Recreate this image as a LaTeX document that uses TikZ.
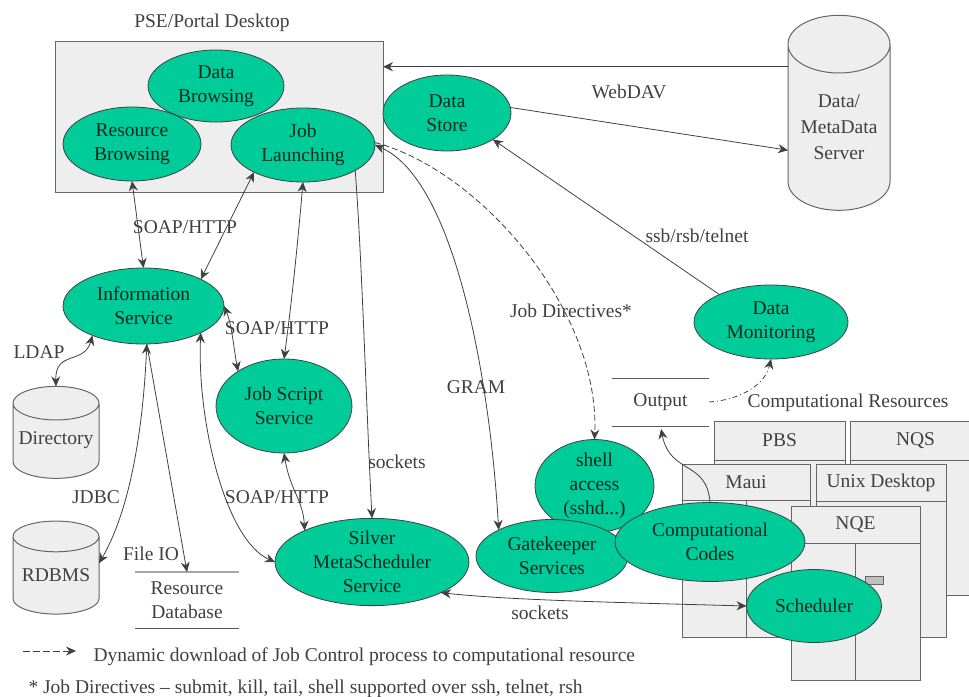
\documentclass[tikz,border=0pt]{standalone}
\usepackage{fontspec}
\setmainfont{Liberation Serif}
\usetikzlibrary{shapes.geometric, arrows.meta, calc}
\definecolor{sea}{HTML}{00CC99}
\definecolor{pale}{HTML}{EEEEEE}
\begin{document}
\begin{tikzpicture}[x=1pt, y=-1pt, every node/.style={font=\fontsize{19.5}{24}\selectfont, text=black!75, align=center}]
% Styles
\tikzstyle{service} = [ellipse, draw=black!75, fill=sea, inner sep=0pt, outer sep=0pt, line width=0.8pt, text=black!80!sea]
\tikzstyle{store} = [cylinder, shape border rotate=90, aspect=0.45, draw=black!60, fill=pale, inner sep=0pt, outer sep=0pt, line width=1pt]
\tikzstyle{panel} = [rectangle, draw=black!60, fill=pale, inner sep=0pt, outer sep=0pt, line width=1pt]
\tikzstyle{flat} = [rectangle, inner sep=0pt, outer sep=0pt]
\tikzstyle{arrow} = [draw=black!75, line width=0.8pt, -{Stealth[length=10pt,width=9pt]}]
\tikzstyle{both} = [draw=black!75, line width=0.8pt, {Stealth[length=10pt,width=9pt]}-{Stealth[length=10pt,width=9pt]}]
\useasboundingbox (0,0) rectangle (969,696);
\clip (0,0) rectangle (969,696);
% Desktop
\node (pse) [panel, minimum width=328, minimum height=151] at (219,116.5) {};
\node (pse_label) at (212,23) {PSE/Portal Desktop};
% Resources
\node (pbs_body) [panel, minimum width=131, minimum height=174] at (779.5,508) {};
\node (pbs) [panel, minimum width=131, minimum height=39] at (779.5,440.5) {PBS};
\node (nqs_body) [panel, minimum width=131, minimum height=174] at (915.5,508) {};
\node (nqs) [panel, minimum width=131, minimum height=39] at (915.5,440.5) {NQS};
\node (maui_body) [panel, minimum width=128, minimum height=173] at (746,550.5) {};
\node (maui) [panel, minimum width=128, minimum height=36] at (746,482) {Maui};
\node (unix_body) [panel, minimum width=130, minimum height=173] at (881,550.5) {};
\node (unix) [panel, minimum width=130, minimum height=37] at (881,482.5) {Unix Desktop};
\draw [draw=black!60, line width=1pt] (maui.south) -- (maui_body.south);
\node (nqe_body) [panel, minimum width=129, minimum height=174] at (855.5,593) {};
\node (nqe) [panel, minimum width=129, minimum height=37] at (855.5,524.5) {NQE};
\draw [draw=black!60, line width=1pt] (nqe.south) -- (nqe_body.south);
\node (nqe_port) [rectangle, draw=black!60, fill=black!25, inner sep=0pt, minimum width=18, minimum height=8] at (874,580) {};
% Nodes
\node (data_browse) [service, minimum width=136, minimum height=72] at (216,86) {Data\\Browsing};
\node (res_browse) [service, minimum width=138, minimum height=74] at (132,144) {Resource\\Browsing};
\node (job_launch) [service, minimum width=144, minimum height=74] at (303,145) {Job\\Launching};
\node (data_store) [service, minimum width=128, minimum height=76] at (447,113) {Data\\Store};
\node (meta) [store, aspect=0.75, minimum width=102, minimum height=195] at (839,127.5) {Data/\\[2pt]MetaData\\[2pt]Server};
\node (info) [service, minimum width=161, minimum height=76] at (143.5,306) {Information\\Service};
\node (directory) [store, minimum width=86, minimum height=92] at (56,441) {\mbox{}\\[-12pt]Directory};
\node (rdbms) [store, minimum width=86, minimum height=93] at (56,575.5) {\mbox{}\\[-12pt]RDBMS};
\node (res_db) [flat, minimum width=104, minimum height=56] at (187,600) {Resource\\Database};
\node (script) [service, minimum width=136, minimum height=94] at (284,406) {Job Script\\Service};
\node (monitor) [service, minimum width=154, minimum height=74] at (771,322) {Data\\Monitoring};
\node (output) [flat, minimum width=97, minimum height=48] at (660.5,402) {Output};
\node (shell) [service, minimum width=119, minimum height=84] at (594.5,486) {shell\\access\\(sshd...)};
\node (gatekeeper) [service, minimum width=152, minimum height=73] at (552,556) {Gatekeeper\\Services};
\node (silver) [service, minimum width=194, minimum height=84] at (372,562) {Silver\\MetaScheduler\\Service};
\node (codes) [service, minimum width=190, minimum height=79] at (710,542) {Computational\\Codes};
\node (scheduler) [service, minimum width=135, minimum height=73] at (814,606) {Scheduler};
% Lines of the flat stores
\draw [draw=black!35, line width=1.4pt] (res_db.north west) -- (res_db.north east);
\draw [draw=black!65, line width=0.8pt] (res_db.south west) -- (res_db.south east);
\draw [draw=black!65, line width=0.8pt] (output.north west) -- (output.north east);
\draw [draw=black!65, line width=0.8pt] (output.south west) -- (output.south east);
% Arrows
\draw [arrow] (meta.130) -- (meta.130 -| pse.east);
\draw [arrow] (data_store.5) -- (meta.204);
\draw [arrow] (monitor.152) -- (data_store.-30);
\draw [both] (res_browse.-90) -- (info.90);
\draw [both] (job_launch.209) -- (info.25);
\draw [both] (job_launch.-90) .. controls (298,240) and (292,300) .. (script.90);
\draw [both] (info.0) .. controls (232,325) and (234,350) .. (script.143);
\draw [both] (info.210) .. controls (84,365) and (55,350) .. (directory.90);
\draw [both] (info.-85) .. controls (143,430) and (130,510) .. (rdbms.16);
\draw [arrow] (info.-85) -- (res_db.north);
\draw [both] (info.-25) .. controls (197,420) and (225,540) .. (silver.180);
\draw [both] (script.-90) .. controls (290,490) and (303,500) .. (silver.155);
\draw [arrow] (job_launch.-26) .. controls (362,260) and (366,400) .. (silver.90);
\draw [both] (job_launch.0) .. controls (455,180) and (490,380) .. (gatekeeper.154);
\draw [arrow, dash pattern=on 6pt off 3pt] (job_launch.2) .. controls (480,170) and (600,310) .. (shell.90);
\draw [both] (silver.-24) .. controls (510,600) and (600,602) .. (scheduler.180);
\draw [arrow, shorten >=3pt] (codes.90) .. controls (707,460) and (670,475) .. (output.south);
\draw [arrow, dash pattern=on 5pt off 3pt on 1pt off 3pt] (output.east) .. controls (740,400) and (765,385) .. (monitor.-90);
% Labels
\node (webdav_label) at (629,92) {WebDAV};
\node (soap_top) at (185,227) {SOAP/HTTP};
\node (soap_mid) at (277,328) {SOAP/HTTP};
\node (soap_low) at (277,497) {SOAP/HTTP};
\node (ssh_label) at (697,236) {ssb/rsb/telnet};
\node (directives_label) at (571,311) {Job Directives*};
\node (gram_label) at (476,387) {GRAM};
\node (sockets_top) at (397,462) {sockets};
\node (sockets_low) at (540,613) {sockets};
\node (ldap_label) at (39,352) {LDAP};
\node (jdbc_label) at (96,497) {JDBC};
\node (fileio_label) at (151,554) {File IO};
\node (res_label) at (848,403) {Computational Resources};
% Legend
\coordinate (legend_start) at (23,651);
\coordinate (legend_end) at (76,651);
\draw [arrow, dash pattern=on 7pt off 3pt] (legend_start) -- (legend_end);
\node (legend_text) [anchor=west] at (90,657) {Dynamic download of Job Control process to computational resource};
\node (note_text) [anchor=west] at (25,689) {* Job Directives -- submit, kill, tail, shell supported over ssh, telnet, rsh};
\end{tikzpicture}
\end{document}
